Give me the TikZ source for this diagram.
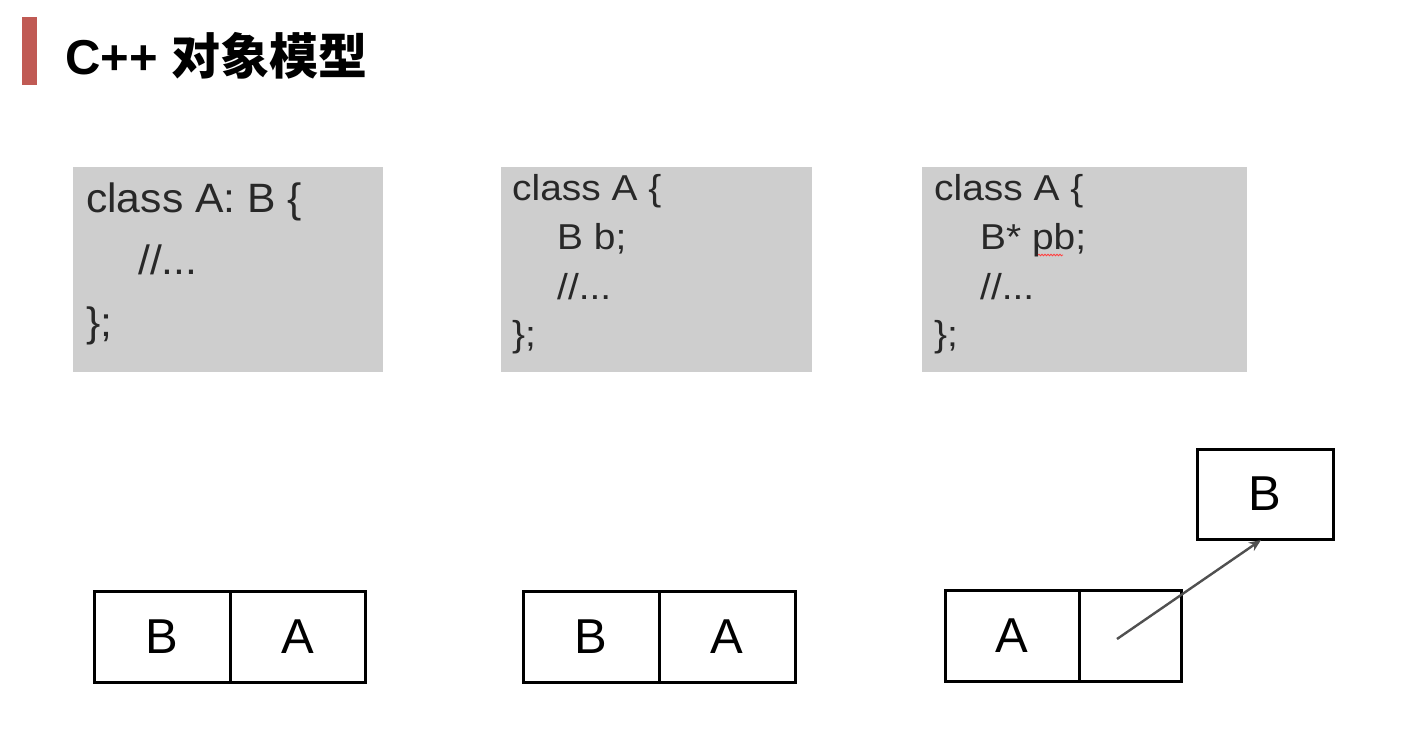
\documentclass[tikz,border=0pt]{standalone}
\usepackage{fontspec}
\setmainfont{Liberation Sans}
\newfontfamily\cjk{Noto Sans CJK SC}
\newfontfamily\codefont{Liberation Sans}[FakeStretch=1.08]
\newfontfamily\codefontb{Liberation Sans}[FakeStretch=1.04]
\usetikzlibrary{arrows.meta,decorations.pathmorphing}
\definecolor{codegray}{RGB}{206,206,206}
\definecolor{codetext}{RGB}{40,40,40}
\definecolor{barred}{RGB}{192,90,84}
\definecolor{arrowgray}{RGB}{80,80,80}
\begin{document}
\begin{tikzpicture}[x=1pt,y=-1pt,
  codebox/.style={fill=codegray, draw=none, inner sep=0pt, anchor=north west},
  codeline/.style={anchor=base west, inner sep=0pt, text=codetext, font=\codefont\fontsize{36}{40}\selectfont},
  bigline/.style={codeline, font=\codefontb\fontsize{41}{48}\selectfont},
  cell/.style={draw=black, line width=3pt, inner sep=0pt, minimum height=91pt, font=\fontsize{49}{55}\selectfont},
]
\useasboundingbox (0,0) rectangle (1415,733);
\fill[white] (0,0) rectangle (1415,733);
% title
\node[fill=barred, minimum width=15pt, minimum height=68pt, inner sep=0pt, anchor=north west] (bar) at (22,17) {};
\node[anchor=base west, inner sep=0pt, font=\fontsize{49}{56}\selectfont\bfseries] (title) at (65,75) {C++ {\cjk\bfseries 对象模型}};
% code boxes
\node[codebox, minimum width=310pt, minimum height=205pt] (code1) at (73,167) {};
\node[codebox, minimum width=311pt, minimum height=205pt] (code2) at (501,167) {};
\node[codebox, minimum width=325pt, minimum height=205pt] (code3) at (922,167) {};
% code 1
\node[bigline] (c1a) at (86,212) {class A: B \{};
\node[bigline] (c1b) at (138,274) {//...};
\node[bigline] (c1c) at (86,336) {\};};
% code 2
\node[codeline] (c2a) at (512,200) {class A \{};
\node[codeline] (c2b) at (557,249) {B b;};
\node[codeline] (c2c) at (557,299) {//...};
\node[codeline] (c2d) at (512,346) {\};};
% code 3
\node[codeline] (c3a) at (934,200) {class A \{};
\node[codeline] (c3b) at (980,249) {B* pb;};
\node[codeline] (c3c) at (980,299) {//...};
\node[codeline] (c3d) at (934,346) {\};};
\draw[red!75, line width=0.8pt, decorate, decoration={snake, amplitude=0.8pt, segment length=3pt}] (1038,255) -- (1063,255);
% object layouts
\node[cell, minimum width=136pt] (b1) at (162,636.5) {B};
\node[cell, minimum width=135pt] (a1) at (297.5,636.5) {A};
\node[cell, minimum width=136pt] (b2) at (591,636.5) {B};
\node[cell, minimum width=136pt] (a2) at (727,636.5) {A};
\node[cell, minimum width=134pt] (a3) at (1012,635.5) {A};
\node[cell, minimum width=102pt] (p3) at (1130,635.5) {};
\node[cell, minimum width=136pt, minimum height=90pt] (bb) at (1265,494) {B};
\coordinate (ptr) at (1117,639);
\coordinate (tip) at (1261,540);
\draw[arrowgray, line width=2.4pt, -{Stealth[length=12pt,width=10pt]}] (ptr) -- (tip);
\end{tikzpicture}
\end{document}
